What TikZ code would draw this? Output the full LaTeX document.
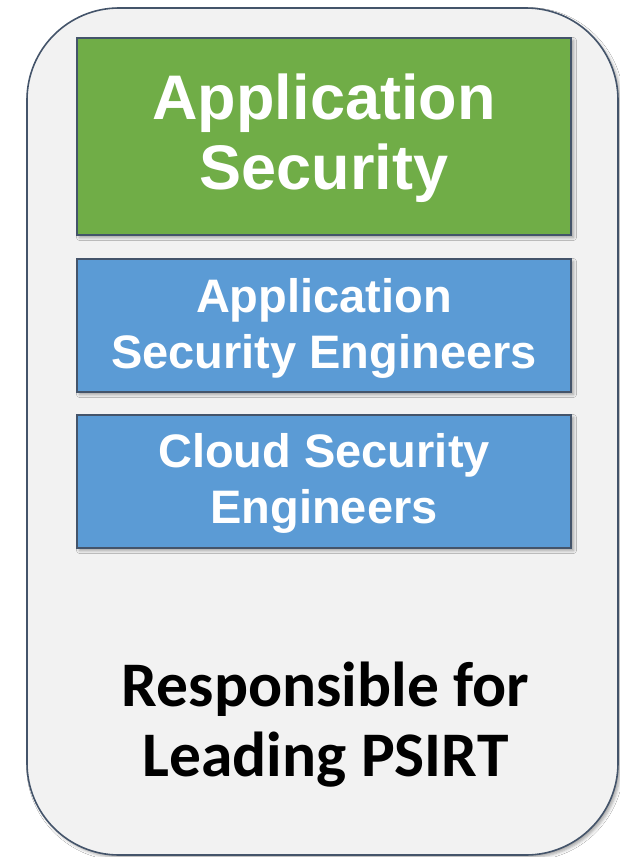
\documentclass[tikz,border=0pt]{standalone}
\usepackage{fontspec}
\setmainfont{Liberation Sans}
\newfontfamily\calib{Carlito}
\usetikzlibrary{shadows.blur}
\definecolor{outerfill}{HTML}{F2F2F2}
\definecolor{edgecol}{HTML}{44546A}
\definecolor{greenfill}{HTML}{70AD47}
\definecolor{bluefill}{HTML}{5B9BD5}
\newcommand{\topstrut}[1]{\rule{0pt}{#1}}
\begin{document}
\begin{tikzpicture}[x=1pt,y=-1pt,
  panel/.style={draw=edgecol, line width=1.6pt, fill=outerfill, rounded corners=92pt,
    blur shadow={shadow xshift=2.5pt, shadow yshift=-2.5pt, shadow blur radius=3pt, shadow opacity=35}},
  tile/.style={draw=edgecol, line width=1.5pt, inner sep=0pt, align=center, text=white,
    blur shadow={shadow xshift=2.5pt, shadow yshift=-2.5pt, shadow blur radius=3pt, shadow opacity=35}},
  bigtile/.style={tile, fill=greenfill, minimum width=494pt, minimum height=197pt,
    font=\bfseries\fontsize{63}{70}\selectfont},
  smalltile/.style={tile, fill=bluefill, minimum width=494pt, minimum height=133pt,
    font=\bfseries\fontsize{47}{56}\selectfont},
  caption/.style={align=center, inner sep=0pt, text=black,
    font=\calib\bfseries\fontsize{63.5}{70}\selectfont}]
\useasboundingbox (0,0) rectangle (620,857);
\fill[white] (0,0) rectangle (620,857);
\path[panel] (27,8) rectangle (618,855);
\node[bigtile] (appsec) at (324,136.5) {\topstrut{50pt}Application\\Security};
\node[smalltile] (ase) at (324,325.5) {\topstrut{39pt}Application\\Security Engineers};
\node[smalltile] (cse) at (324,481.5) {\topstrut{37pt}Cloud Security\\Engineers};
\node[caption] (resp) at (325.5,725) {Responsible for\\Leading PSIRT};
\end{tikzpicture}
\end{document}
